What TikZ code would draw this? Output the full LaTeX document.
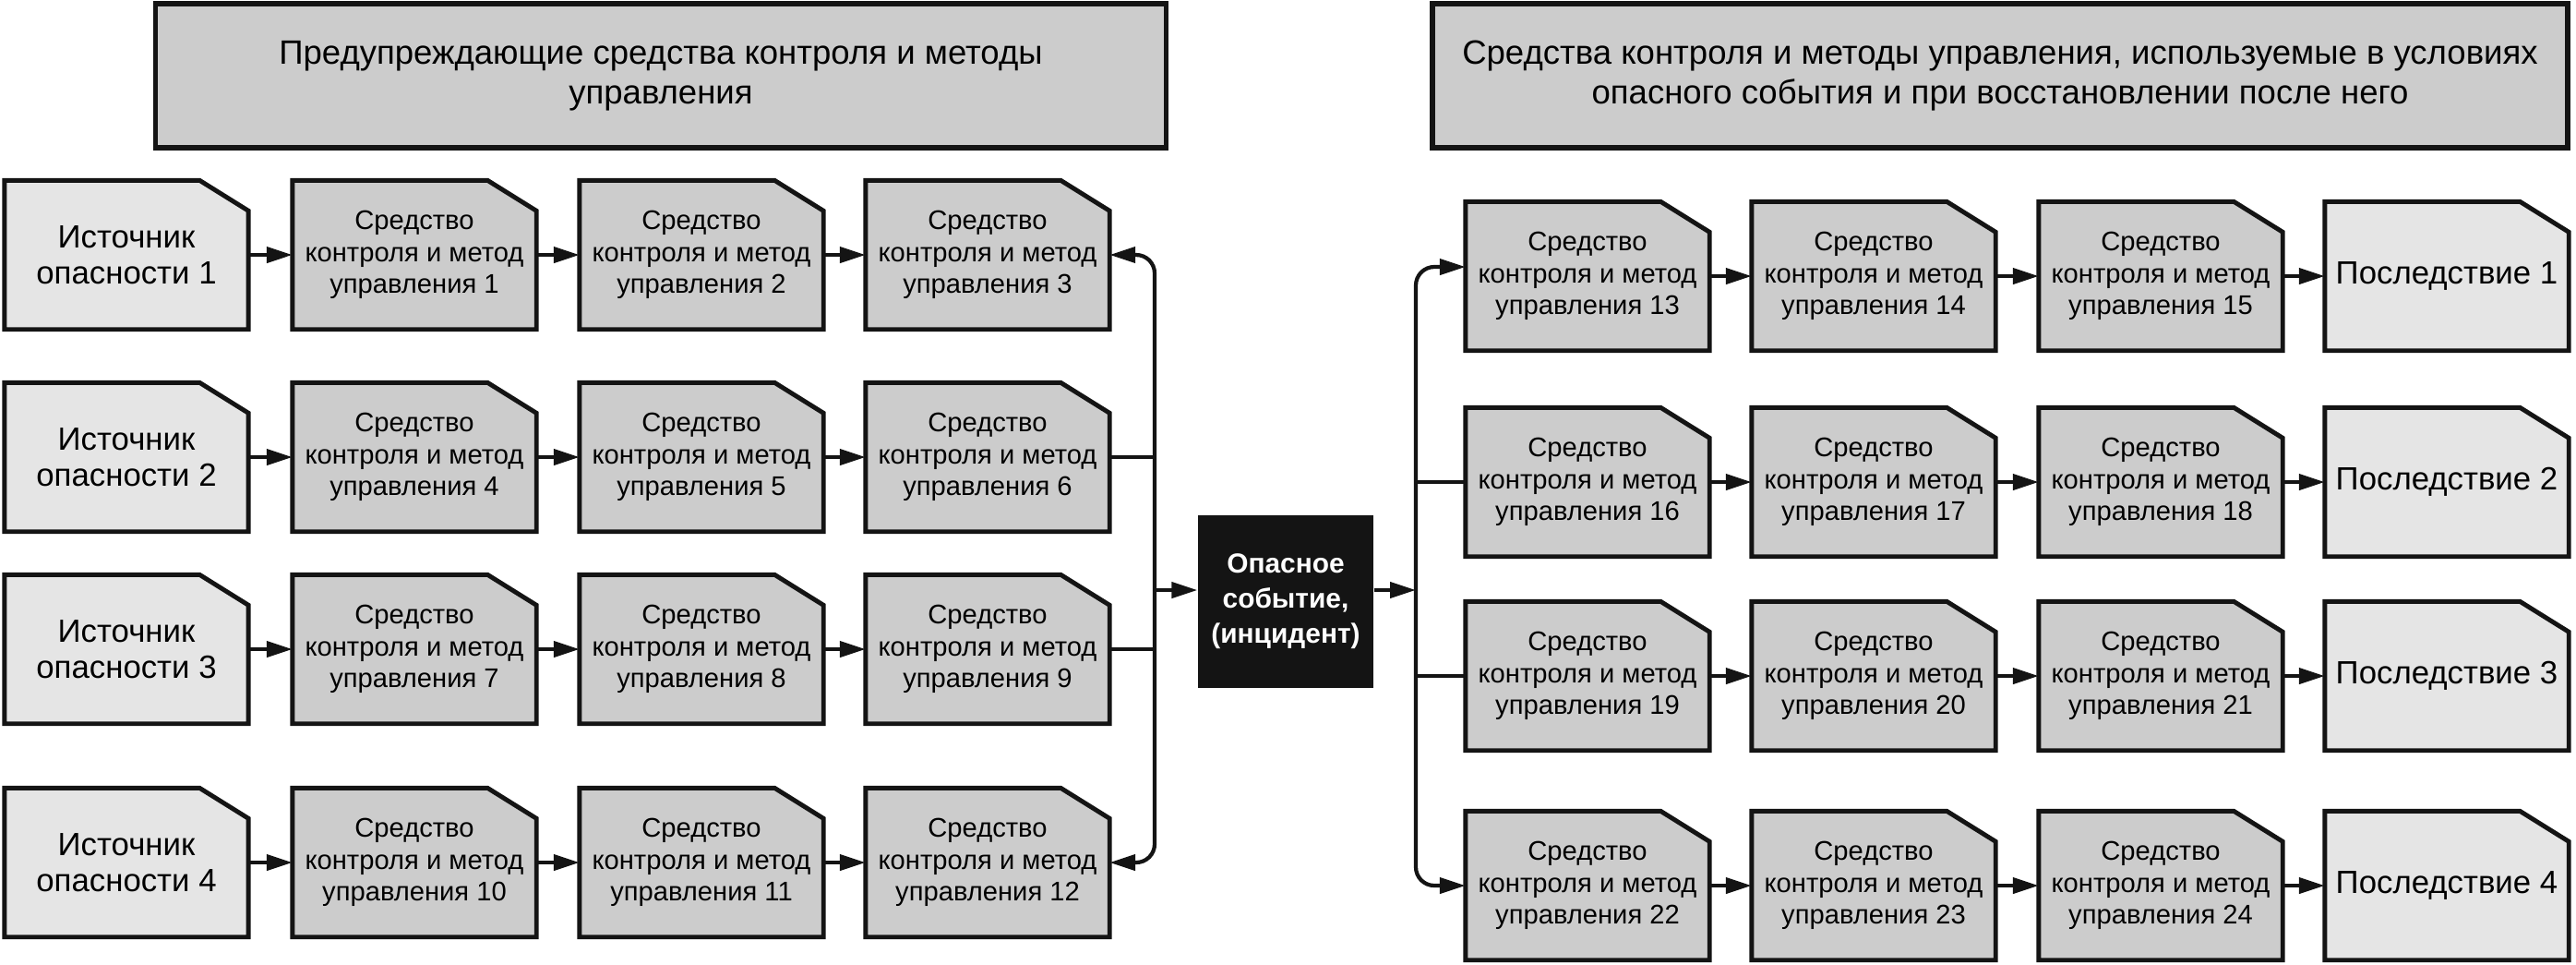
\documentclass[tikz,border=0pt]{standalone}
\usepackage{fontspec}
\setmainfont{Liberation Sans}
\usepackage{tikz}
\usetikzlibrary{arrows.meta, backgrounds, calc}
\definecolor{ctrlgray}{rgb}{0.8,0.8,0.8}
\definecolor{srcgray}{rgb}{0.9,0.9,0.9}
\definecolor{inkblack}{rgb}{0.08,0.08,0.08}

\newcommand{\ctrltxt}[1]{Средство\\контроля и метод\\управления #1}

\tikzset{
	cutbox/.style={minimum width=2.63cm, minimum height=1.6cm, inner sep=0pt, align=center,
		font=\fontsize{8.3}{9.8}\selectfont},
	endbox/.style={cutbox, font=\fontsize{9.9}{11.2}\selectfont},
	cutline/.style={draw=inkblack, line width=1.4pt, line join=miter},
	headbox/.style={draw=inkblack, fill=ctrlgray, line width=1.6pt, minimum height=1.56cm, align=center,
		font=\fontsize{10.4}{12.4}\selectfont},
	incident/.style={fill=inkblack, text=white, minimum width=1.9cm, minimum height=1.87cm, inner sep=0pt,
		align=center, font=\bfseries\fontsize{8.5}{10.8}\selectfont},
	flow/.style={-{Triangle[length=2.8mm,width=1.7mm]}, line width=1.2pt, draw=inkblack},
	link/.style={line width=1.2pt, draw=inkblack}
}

\begin{document}
\begin{tikzpicture}
			\useasboundingbox (0,0) rectangle (27.91,-10.44);
			
			\node(headL) [headbox, minimum width=10.95cm] at (7.16,-0.82) {Предупреждающие средства контроля и методы\\управления};
			\node(headR) [headbox, minimum width=12.30cm] at (21.67,-0.82) {Средства контроля и методы управления, используемые в условиях\\опасного события и при восстановлении после него};
			
			% sources of hazard and preventive controls
			\node(src1) [endbox] at (1.37,-2.76) {Источник\\опасности 1};
			\node(src2) [endbox] at (1.37,-4.95) {Источник\\опасности 2};
			\node(src3) [endbox] at (1.37,-7.03) {Источник\\опасности 3};
			\node(src4) [endbox] at (1.37,-9.34) {Источник\\опасности 4};
			
			\node(ctrl1) [cutbox] at (4.49,-2.76) {\ctrltxt{1}};
			\node(ctrl2) [cutbox] at (7.60,-2.76) {\ctrltxt{2}};
			\node(ctrl3) [cutbox] at (10.70,-2.76) {\ctrltxt{3}};
			\node(ctrl4) [cutbox] at (4.49,-4.95) {\ctrltxt{4}};
			\node(ctrl5) [cutbox] at (7.60,-4.95) {\ctrltxt{5}};
			\node(ctrl6) [cutbox] at (10.70,-4.95) {\ctrltxt{6}};
			\node(ctrl7) [cutbox] at (4.49,-7.03) {\ctrltxt{7}};
			\node(ctrl8) [cutbox] at (7.60,-7.03) {\ctrltxt{8}};
			\node(ctrl9) [cutbox] at (10.70,-7.03) {\ctrltxt{9}};
			\node(ctrl10) [cutbox] at (4.49,-9.34) {\ctrltxt{10}};
			\node(ctrl11) [cutbox] at (7.60,-9.34) {\ctrltxt{11}};
			\node(ctrl12) [cutbox] at (10.70,-9.34) {\ctrltxt{12}};
			
			\node(event) [incident] at (13.93,-6.51) {Опасное\\событие,\\(инцидент)};
			
			% controls after the event and consequences
			\node(ctrl13) [cutbox] at (17.20,-2.99) {\ctrltxt{13}};
			\node(ctrl14) [cutbox] at (20.30,-2.99) {\ctrltxt{14}};
			\node(ctrl15) [cutbox] at (23.41,-2.99) {\ctrltxt{15}};
			\node(ctrl16) [cutbox] at (17.20,-5.22) {\ctrltxt{16}};
			\node(ctrl17) [cutbox] at (20.30,-5.22) {\ctrltxt{17}};
			\node(ctrl18) [cutbox] at (23.41,-5.22) {\ctrltxt{18}};
			\node(ctrl19) [cutbox] at (17.20,-7.32) {\ctrltxt{19}};
			\node(ctrl20) [cutbox] at (20.30,-7.32) {\ctrltxt{20}};
			\node(ctrl21) [cutbox] at (23.41,-7.32) {\ctrltxt{21}};
			\node(ctrl22) [cutbox] at (17.20,-9.59) {\ctrltxt{22}};
			\node(ctrl23) [cutbox] at (20.30,-9.59) {\ctrltxt{23}};
			\node(ctrl24) [cutbox] at (23.41,-9.59) {\ctrltxt{24}};
			
			\node(cons1) [endbox] at (26.51,-2.99) {Последствие 1};
			\node(cons2) [endbox] at (26.51,-5.22) {Последствие 2};
			\node(cons3) [endbox] at (26.51,-7.32) {Последствие 3};
			\node(cons4) [endbox] at (26.51,-9.59) {Последствие 4};
			
			% cut-corner outlines behind the texts
			\begin{scope}[on background layer]
				\foreach \n in {src1,src2,src3,src4,cons1,cons2,cons3,cons4}
				\draw[cutline, fill=srcgray] (\n.south west) -- (\n.north west) -- ([xshift=-5.3mm]\n.north east) -- ([yshift=-3.3mm]\n.north east) -- (\n.south east) -- cycle;
				\foreach \n in {1,...,24}
				\draw[cutline, fill=ctrlgray] (ctrl\n.south west) -- (ctrl\n.north west) -- ([xshift=-5.3mm]ctrl\n.north east) -- ([yshift=-3.3mm]ctrl\n.north east) -- (ctrl\n.south east) -- cycle;
			\end{scope}
			
			\draw[flow] (src1) -- (ctrl1);
			\draw[flow] (ctrl1) -- (ctrl2);
			\draw[flow] (ctrl2) -- (ctrl3);
			\draw[flow] (src2) -- (ctrl4);
			\draw[flow] (ctrl4) -- (ctrl5);
			\draw[flow] (ctrl5) -- (ctrl6);
			\draw[flow] (src3) -- (ctrl7);
			\draw[flow] (ctrl7) -- (ctrl8);
			\draw[flow] (ctrl8) -- (ctrl9);
			\draw[flow] (src4) -- (ctrl10);
			\draw[flow] (ctrl10) -- (ctrl11);
			\draw[flow] (ctrl11) -- (ctrl12);
			
			\coordinate (jl) at (12.51,-6.39);
			\coordinate (jr) at (15.34,-6.39);
			
			\draw[flow, rounded corners=2mm] (jl) |- (ctrl3.east);
			\draw[flow, rounded corners=2mm] (jl) |- (ctrl12.east);
			\draw[link] (ctrl6.east) -| (jl);
			\draw[link] (ctrl9.east) -| (jl);
			\draw[flow] (jl) -- (jl -| event.west);
			
			\draw[flow] (jr -| event.east) -- (jr);
			\draw[flow, rounded corners=2mm] (jr) |- ([yshift=1mm]ctrl13.west);
			\draw[flow, rounded corners=2mm] (jr) |- (ctrl22.west);
			\draw[link] (jr) |- (ctrl16.west);
			\draw[link] (jr) |- (ctrl19.west);
			
			\draw[flow] (ctrl13) -- (ctrl14);
			\draw[flow] (ctrl14) -- (ctrl15);
			\draw[flow] (ctrl15) -- (cons1);
			\draw[flow] (ctrl16) -- (ctrl17);
			\draw[flow] (ctrl17) -- (ctrl18);
			\draw[flow] (ctrl18) -- (cons2);
			\draw[flow] (ctrl19) -- (ctrl20);
			\draw[flow] (ctrl20) -- (ctrl21);
			\draw[flow] (ctrl21) -- (cons3);
			\draw[flow] (ctrl22) -- (ctrl23);
			\draw[flow] (ctrl23) -- (ctrl24);
			\draw[flow] (ctrl24) -- (cons4);
		\end{tikzpicture}
\end{document}
